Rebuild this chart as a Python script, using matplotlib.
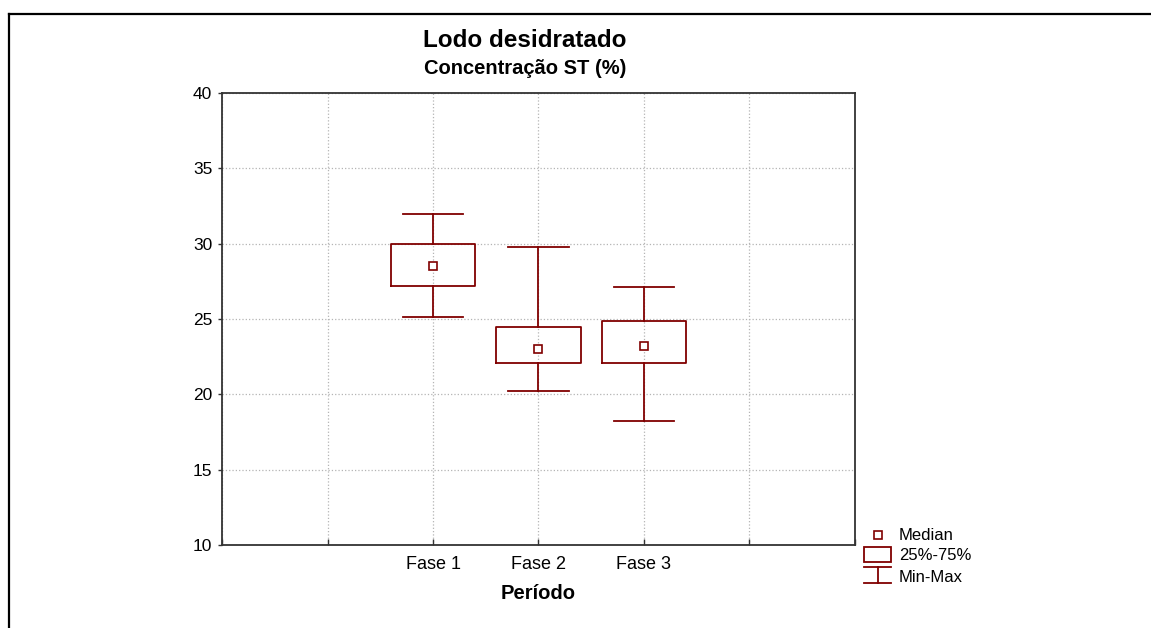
import matplotlib
matplotlib.use("Agg")
import matplotlib.pyplot as plt
from matplotlib.lines import Line2D
from matplotlib.patches import Rectangle

plt.rcParams['font.family'] = ['Liberation Sans', 'DejaVu Sans']

# dados
fases = ["Fase 1", "Fase 2", "Fase 3"]
posicoes = [2, 3, 4]
mediana = [28.53, 22.98, 23.20]
q1 = [27.20, 22.08, 22.08]
q3 = [30.00, 24.50, 24.84]
minimo = [25.10, 20.22, 18.23]
maximo = [32.00, 29.75, 27.12]

cor = "#800000"
cor_eixo = "#333333"

fig = plt.figure(figsize=(11.51, 6.28), dpi=100)

# camada de fundo em pixels para a moldura e a legenda
ov = fig.add_axes([0, 0, 1, 1], zorder=0)
ov.set_xlim(0, 1151)
ov.set_ylim(628, 0)
ov.axis("off")

ax = fig.add_axes([0.1929, 0.1322, 0.5499, 0.7197], zorder=1)
ax.patch.set_alpha(0)

stats = []
for i in range(len(fases)):
    stats.append({
        "med": mediana[i], "q1": q1[i], "q3": q3[i],
        "whislo": minimo[i], "whishi": maximo[i], "fliers": [],
    })

lw = 1.3
ax.bxp(stats, positions=posicoes, widths=0.8, capwidths=0.57,
       showfliers=False, manage_ticks=False,
       boxprops=dict(color=cor, linewidth=lw),
       whiskerprops=dict(color=cor, linewidth=lw),
       capprops=dict(color=cor, linewidth=lw),
       medianprops=dict(linestyle="none"))
ax.plot(posicoes, mediana, linestyle="none", marker="s", markersize=5.2,
        markerfacecolor="white", markeredgecolor=cor, markeredgewidth=1.2)

ax.set_xlim(0, 6)
ax.set_ylim(10, 40)
ax.set_xticks(range(0, 7))
ax.set_xticklabels(["", ""] + fases + ["", ""])
ax.set_yticks(range(10, 41, 5))

ax.grid(True, color="#b4b4b4", linestyle=":", linewidth=0.9)
ax.set_axisbelow(True)
for s in ax.spines.values():
    s.set_color(cor_eixo)
    s.set_linewidth(1.3)
ax.tick_params(axis="x", direction="in", length=4, width=1, colors=cor_eixo,
               labelcolor="black", labelsize=13, pad=8)
ax.tick_params(axis="y", direction="out", length=3, width=1, colors=cor_eixo,
               labelcolor="black", labelsize=12.5, pad=4)
ax.set_xlabel("Período", fontsize=14.5, fontweight="bold", labelpad=8)

fig.text(0.456, 0.9247, "Lodo desidratado", ha="center", va="baseline",
         fontsize=17.5, fontweight="bold")
fig.text(0.456, 0.8822, "Concentração ST (%)", ha="center", va="baseline",
         fontsize=14.5, fontweight="bold")

# moldura (topo e esquerda)
ov.add_line(Line2D([9, 1151], [14, 14], color="black", linewidth=1.6))
ov.add_line(Line2D([9, 9], [14, 628], color="black", linewidth=1.6))

# legenda
ov.plot([878.5], [534.5], linestyle="none", marker="s", markersize=5.2,
        markerfacecolor="white", markeredgecolor=cor, markeredgewidth=1.2)
ov.add_patch(Rectangle((864.5, 547), 27, 15, fill=False, edgecolor=cor, linewidth=lw))
ov.add_line(Line2D([864.5, 891.5], [567, 567], color=cor, linewidth=lw))
ov.add_line(Line2D([864.5, 891.5], [583, 583], color=cor, linewidth=lw))
ov.add_line(Line2D([878, 878], [567, 583], color=cor, linewidth=lw))
for y, txt in zip([535, 556, 577], ["Median", "25%-75%", "Min-Max"]):
    ov.text(899, y, txt, ha="left", va="center", fontsize=12)

fig.savefig("out.png", dpi=100)
